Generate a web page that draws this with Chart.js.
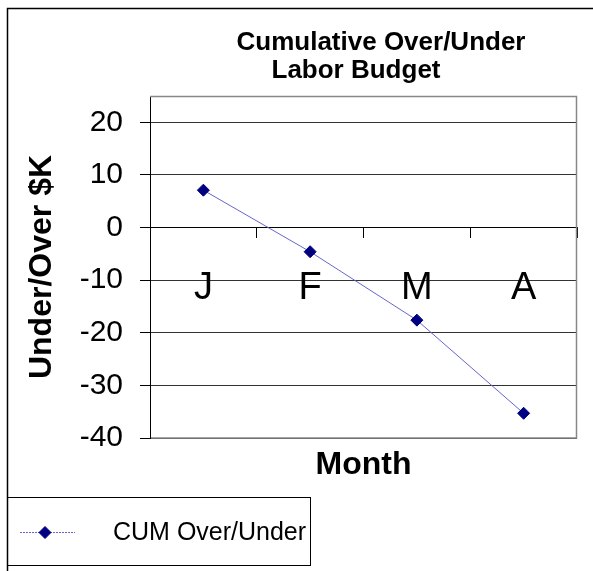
<!DOCTYPE html>
<html>
<head>
<meta charset="utf-8">
<script src="https://cdn.jsdelivr.net/npm/chart.js@4.4.1/dist/chart.umd.min.js"></script>
<style>
  html, body { margin: 0; padding: 0; background: #fff; }
  canvas { display: block; }
</style>
</head>
<body>
<canvas id="chart" width="593" height="571"></canvas>
<script>
const months = ['J', 'F', 'M', 'A'];
const cumOverUnder = [7.1, -4.6, -17.6, -35.3];
const yTicks = [20, 10, 0, -10, -20, -30, -40];
const titleLines = ['Cumulative Over/Under', 'Labor Budget'];
const FONT = 'Arial, "Liberation Sans", Helvetica, sans-serif';

// outer frame, two-line title, grey plot frame and the boxed legend
const frame = {
  id: 'frame',
  beforeDraw(chart) {
    const ctx = chart.ctx;
    ctx.save();
    ctx.fillStyle = '#fff';
    ctx.fillRect(0, 0, chart.width, chart.height);
    ctx.strokeStyle = '#000';
    ctx.lineWidth = 1.5;
    ctx.beginPath();
    ctx.moveTo(7.5, chart.height);
    ctx.lineTo(7.5, 8.5);
    ctx.lineTo(chart.width, 8.5);
    ctx.stroke();

    ctx.fillStyle = '#000';
    ctx.font = 'bold 26px ' + FONT;
    ctx.textAlign = 'center';
    ctx.textBaseline = 'alphabetic';
    ctx.fillText(titleLines[0], 381, 50);
    ctx.fillText(titleLines[1], 356, 78);
    ctx.restore();
  },
  beforeDatasetsDraw(chart) {
    const ctx = chart.ctx, a = chart.chartArea;
    ctx.save();
    ctx.strokeStyle = '#888';
    ctx.lineWidth = 1.5;
    ctx.beginPath();
    ctx.moveTo(a.left, a.top + 0.5);
    ctx.lineTo(a.right - 0.5, a.top + 0.5);
    ctx.lineTo(a.right - 0.5, a.bottom);
    ctx.lineTo(a.left + 1, a.bottom);
    ctx.stroke();
    ctx.restore();
  },
  afterDraw(chart) {
    const ctx = chart.ctx;
    const ds = chart.data.datasets[0];
    ctx.save();
    ctx.strokeStyle = '#000';
    ctx.lineWidth = 1;
    ctx.strokeRect(7.5, 497.5, 303, 68);

    ctx.strokeStyle = ds.borderColor;
    ctx.setLineDash([2, 1]);
    ctx.beginPath();
    ctx.moveTo(20, 532.5);
    ctx.lineTo(75, 532.5);
    ctx.stroke();
    ctx.setLineDash([]);

    ctx.fillStyle = ds.pointBackgroundColor;
    ctx.strokeStyle = ds.pointBorderColor;
    Chart.helpers.drawPoint(ctx, { pointStyle: 'rectRot', radius: 6, rotation: 0, borderWidth: 1 }, 45, 532.5);

    ctx.fillStyle = '#000';
    ctx.font = '25px ' + FONT;
    ctx.textAlign = 'left';
    ctx.textBaseline = 'middle';
    ctx.fillText(ds.label, 113, 533);
    ctx.restore();
  }
};

new Chart(document.getElementById('chart'), {
  type: 'line',
  data: {
    labels: months,
    datasets: [{
      label: 'CUM Over/Under',
      data: cumOverUnder,
      borderColor: '#6666cc',
      borderWidth: 1,
      pointStyle: 'rectRot',
      pointRadius: 6,
      pointBackgroundColor: '#000080',
      pointBorderColor: '#000080',
      pointBorderWidth: 1,
      fill: false,
      tension: 0
    }]
  },
  options: {
    responsive: false,
    animation: false,
    layout: { padding: { top: 96, right: 16, left: 0, bottom: 0 } },
    plugins: {
      legend: { display: false },
      title: { display: false },
      tooltip: { enabled: false }
    },
    scales: {
      x: {
        type: 'category',
        offset: true,
        position: { y: 0 },
        grid: { offset: true, drawOnChartArea: false, drawTicks: true, tickLength: 10, color: '#000' },
        border: { display: true, color: '#000', width: 1 },
        ticks: { font: { family: FONT, size: 38 }, color: '#000', padding: 28, maxRotation: 0, autoSkip: false }
      },
      x2: {
        type: 'category',
        offset: true,
        position: 'bottom',
        grid: { display: false },
        border: { display: false },
        ticks: { display: false },
        title: {
          display: true,
          text: 'Month',
          color: '#000',
          font: { family: FONT, size: 32, weight: 'bold', lineHeight: 1.2 },
          padding: { top: 0, bottom: 87 }
        },
        afterFit(s) { s.height = 133; }
      },
      y: {
        min: -40,
        max: 25,
        position: 'left',
        afterBuildTicks(s) { s.ticks = yTicks.map(v => ({ value: v })); },
        ticks: { font: { family: FONT, size: 30 }, color: '#000', padding: 17 },
        grid: { color: '#333', tickColor: '#000', tickLength: 10 },
        border: { color: '#000', width: 1 },
        title: {
          display: true,
          text: 'Under/Over $K',
          color: '#000',
          font: { family: FONT, size: 32, weight: 'bold', lineHeight: 1.2 },
          padding: { top: 23, bottom: 0 }
        },
        afterFit(s) { s.width = 150; }
      }
    }
  },
  plugins: [frame]
});
</script>
</body>
</html>
